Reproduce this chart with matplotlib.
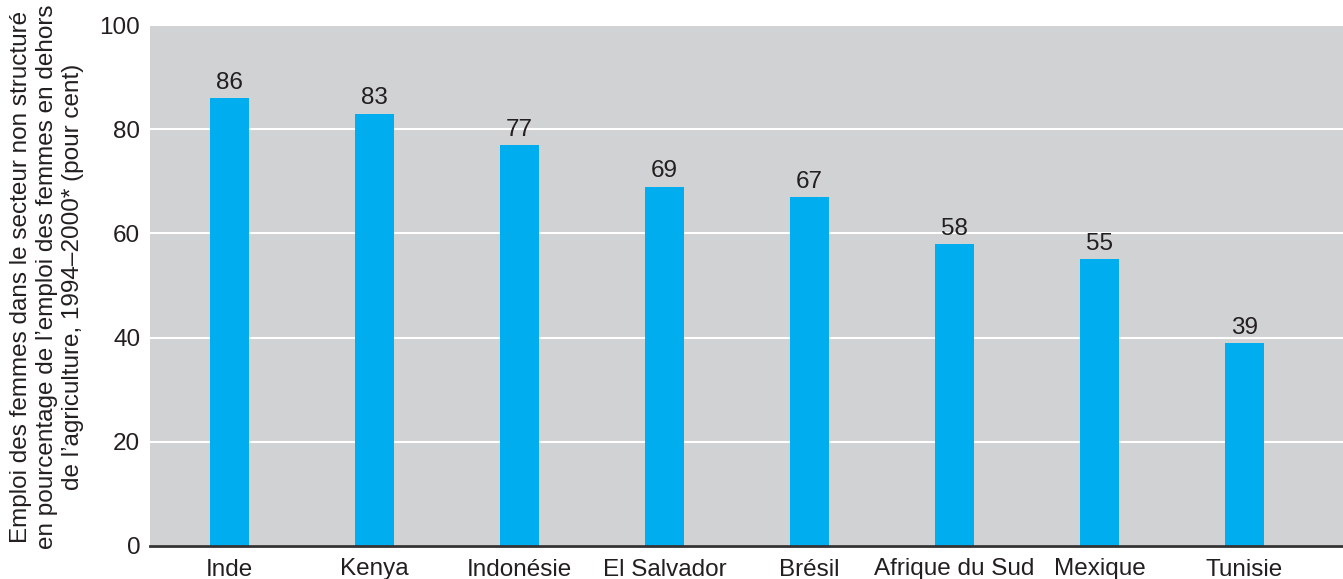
import matplotlib
matplotlib.use("Agg")
import matplotlib.pyplot as plt

categories = ["Inde", "Kenya", "Indonésie", "El Salvador", "Brésil",
              "Afrique du Sud", "Mexique", "Tunisie"]
values = [86, 83, 77, 69, 67, 58, 55, 39]
yticks = [0, 20, 40, 60, 80, 100]
ylabel = ("Emploi des femmes dans le secteur non structuré\n"
          "en pourcentage de l’emploi des femmes en dehors\n"
          "de l’agriculture, 1994–2000* (pour cent)")

plt.rcParams['font.family'] = ['Liberation Sans', 'DejaVu Sans']
text_color = "#231f20"

fig = plt.figure(figsize=(13.43, 5.79), dpi=100)
ax = fig.add_axes([150/1343, 33/579, 1 - 150/1343, (546-25)/579])
ax.set_facecolor("#d1d2d4")

x = list(range(len(categories)))
bars = ax.bar(x, values, width=0.27, color="#00adef", zorder=3)
for xi, v in zip(x, values):
    ax.text(xi, v + 0.8, str(v), ha="center", va="bottom",
            fontsize=17.5, color=text_color, zorder=4)

ax.set_xlim(-0.548, 7.68)
ax.set_ylim(0, 100)
ax.set_yticks(yticks)
ax.set_xticks(x)
ax.set_xticklabels(categories)
ax.tick_params(axis="both", length=0, labelsize=17.5, colors=text_color)
ax.tick_params(axis="y", pad=7)
ax.tick_params(axis="x", pad=9)
ax.yaxis.grid(True, color="white", linewidth=1.5, zorder=1)
ax.set_axisbelow(True)
for s in ["top", "right", "left"]:
    ax.spines[s].set_visible(False)
ax.spines["bottom"].set_color("#333333")
ax.spines["bottom"].set_linewidth(2)
ax.spines["bottom"].set_zorder(5)

fig.text(47/1343, 1 - 277/579, ylabel, rotation=90, ha="center", va="center",
         fontsize=17.5, color=text_color, linespacing=1.25, multialignment="center")

fig.savefig("out.png", dpi=100)
